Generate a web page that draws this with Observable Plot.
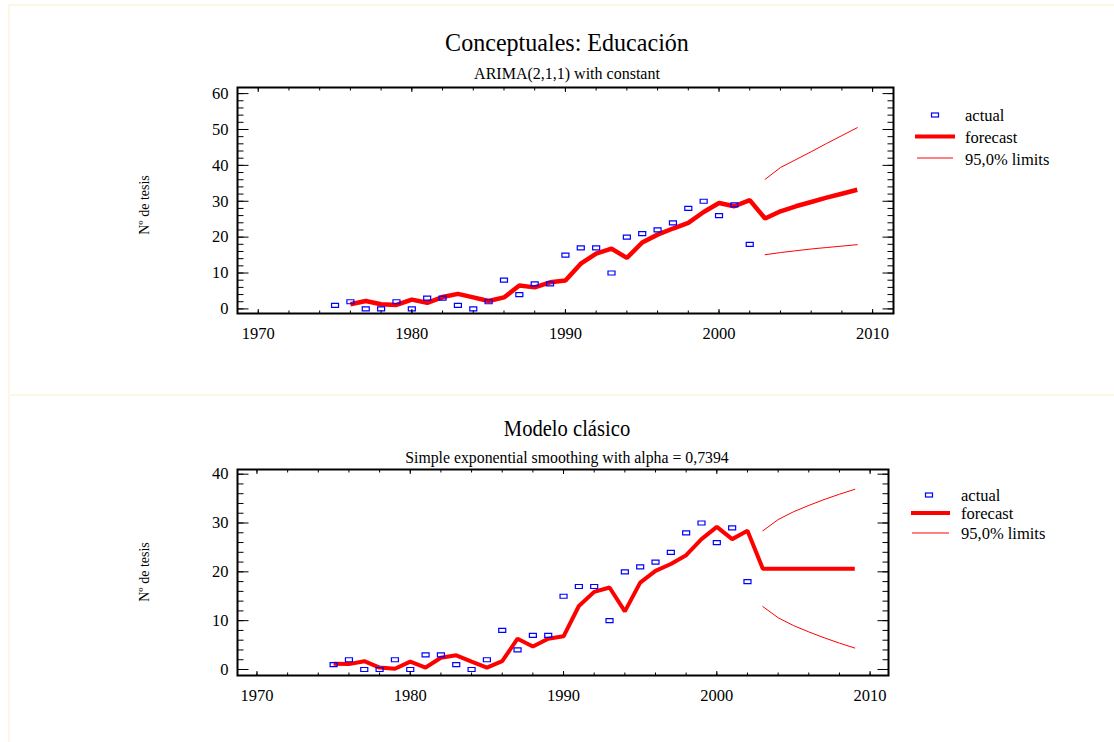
<!DOCTYPE html>
<html>
<head>
<meta charset="utf-8">
<script src="https://cdn.jsdelivr.net/npm/d3@7"></script>
<script src="https://cdn.jsdelivr.net/npm/@observablehq/plot@0.6"></script>
<style>
  body { margin: 0; background: #fff; font-family: "Liberation Serif", "Times New Roman", serif; color: #000; }
  #root { position: relative; width: 1114px; height: 742px; overflow: hidden; background: #fff; }
  .panel { position: absolute; box-sizing: border-box; border: 2px solid #fdf6e4; }
  .plot { position: absolute; left: 0; }
  .title { position: absolute; left: 0; width: 1134px; text-align: center; white-space: nowrap; line-height: 1; font-family: "Liberation Serif", serif; }
  .ylab { position: absolute; white-space: nowrap; font-size: 14px; line-height: 1; transform: translate(-50%, -50%) rotate(-90deg); font-family: "Liberation Serif", serif; }
  .legend { position: absolute; overflow: visible; }
  .legend text { font-family: "Liberation Serif", "Times New Roman", serif; font-size: 16.5px; fill: #000; }
</style>
</head>
<body>
<div id="root">
  <div class="panel" style="left:8px;top:4px;width:1110px;height:392px;"></div>
  <div class="panel" style="left:8px;top:394px;width:1110px;height:360px;"></div>
  <div id="p1" class="plot" style="top:0px;"></div>
  <div id="p2" class="plot" style="top:395px;"></div>
  <div class="title" style="top:43px;font-size:26px;transform:translateY(-50%) scaleX(0.925);">Conceptuales: Educación</div>
  <div class="title" style="top:74px;font-size:16px;transform:translateY(-50%);">ARIMA(2,1,1) with constant</div>
  <div class="title" style="top:429px;font-size:22.5px;transform:translateY(-50%) scaleX(0.915);">Modelo clásico</div>
  <div class="title" style="top:458px;font-size:15.8px;transform:translateY(-50%);">Simple exponential smoothing with alpha = 0,7394</div>
  <div class="ylab" style="left:145px;top:205px;">Nº de tesis</div>
  <div class="ylab" style="left:145px;top:572px;">Nº de tesis</div>
  <svg class="legend" style="left:900px;top:100px;" width="200" height="70">
    <rect x="31.5" y="13" width="7" height="4" fill="none" stroke="#0000ff" stroke-width="1.2"></rect>
    <text x="65" y="15" dy="0.35em">actual</text>
    <line x1="15" x2="55" y1="36.5" y2="36.5" stroke="#ff0000" stroke-width="4"></line>
    <text x="65" y="37" dy="0.35em">forecast</text>
    <line x1="17" x2="53" y1="58" y2="58" stroke="#ff0000" stroke-width="1"></line>
    <text x="65" y="59" dy="0.35em">95,0% limits</text>
  </svg>
  <svg class="legend" style="left:900px;top:480px;" width="200" height="70">
    <rect x="25.5" y="13" width="7" height="4" fill="none" stroke="#0000ff" stroke-width="1.2"></rect>
    <text x="61" y="15" dy="0.35em">actual</text>
    <line x1="11" x2="50" y1="33" y2="33" stroke="#ff0000" stroke-width="4"></line>
    <text x="61" y="33" dy="0.35em">forecast</text>
    <line x1="12" x2="49" y1="53" y2="53" stroke="#ff0000" stroke-width="1"></line>
    <text x="61" y="53" dy="0.35em">95,0% limits</text>
  </svg>
</div>
<script>
// ---------- data ----------
const actualYears = [1975,1976,1977,1978,1979,1980,1981,1982,1983,1984,1985,1986,1987,1988,1989,1990,1991,1992,1993,1994,1995,1996,1997,1998,1999,2000,2001,2002];
const actual      = [1,2,0,0,2,0,3,3,1,0,2,8,4,7,7,15,17,17,10,20,21,22,24,28,30,26,29,18];

// ARIMA(2,1,1) forecast (top chart)
const arimaYears = [1976,1977,1978,1979,1980,1981,1982,1983,1984,1985,1986,1987,1988,1989,1990,1991,1992,1993,1994,1995,1996,1997,1998,1999,2000,2001,2002,2003,2004,2005,2006,2007,2008,2009];
const arimaFc    = [1.3,2.2,1.3,1.1,2.6,1.7,3.3,4.2,3.2,2.2,3.2,6.5,6.0,7.4,7.9,12.6,15.4,16.8,14.2,18.5,20.7,22.4,24.0,27.0,29.5,28.6,30.3,25.2,27.2,28.6,29.8,31.0,32.1,33.2];
const limitYears = [2003,2004,2005,2006,2007,2008,2009];
const arimaUpper = [36.1,39.4,41.6,43.8,46.1,48.3,50.5];
const arimaLower = [15.1,15.7,16.2,16.7,17.1,17.5,17.9];

// Simple exponential smoothing forecast (bottom chart)
const sesYears = [1975,1976,1977,1978,1979,1980,1981,1982,1983,1984,1985,1986,1987,1988,1989,1990,1991,1992,1993,1994,1995,1996,1997,1998,1999,2000,2001,2002,2003,2004,2005,2006,2007,2008,2009];
const sesFc    = [1.2,1.1,1.7,0.4,0.15,1.6,0.4,2.4,2.9,1.6,0.4,1.7,6.3,4.7,6.3,6.8,13.0,15.9,16.8,11.9,17.8,20.2,21.6,23.4,26.7,29.2,26.7,28.4,20.65,20.65,20.65,20.65,20.65,20.65,20.65];
const sesUpper = [28.4,30.7,32.3,33.6,34.8,35.9,36.9];
const sesLower = [12.9,10.6,9.0,7.7,6.5,5.4,4.4];

// tick values
const xMajor = [1970,1980,1990,2000,2010];
const xMinor = [1970,1972,1974,1976,1978,1980,1982,1984,1986,1988,1990,1992,1994,1996,1998,2000,2002,2004,2006,2008,2010];
const yMajorTop = [0,10,20,30,40,50,60];
const yMinorTop = [0,2,4,6,8,10,12,14,16,18,20,22,24,26,28,30,32,34,36,38,40,42,44,46,48,50,52,54,56,58,60];
const yMajorBot = [0,10,20,30,40];
const yMinorBot = [0,2,4,6,8,10,12,14,16,18,20,22,24,26,28,30,32,34,36,38,40];

(function () {
  const BLUE = "#0000ff", RED = "#ff0000";
  const box = { draw(ctx) { ctx.moveTo(-3.5,-2); ctx.lineTo(3.5,-2); ctx.lineTo(3.5,2); ctx.lineTo(-3.5,2); ctx.closePath(); } };
  const zip = (xs, ys) => xs.map((x, i) => ({x, y: ys[i]}));
  const FONT = '"Liberation Serif", "Times New Roman", serif';

  function frameAxes(yMajor, yMinor) {
    const none = {fill: "none", label: null};
    return [
      Plot.axisX({anchor: "bottom", ticks: xMajor, tickSize: 0, tickPadding: 14, tickFormat: d => String(d), fontSize: 16.5, label: null}),
      Plot.axisX({anchor: "bottom", ticks: xMinor, tickSize: -2.5, ...none}),
      Plot.axisX({anchor: "bottom", ticks: xMajor, tickSize: -4, ...none}),
      Plot.axisX({anchor: "top", ticks: xMinor, tickSize: -2.5, ...none}),
      Plot.axisX({anchor: "top", ticks: xMajor, tickSize: -4, ...none}),
      Plot.axisY({anchor: "left", ticks: yMajor, tickSize: 0, tickPadding: 9, tickFormat: d => String(d), fontSize: 16.5, label: null}),
      Plot.axisY({anchor: "left", ticks: yMinor, tickSize: -6.5, ...none}),
      Plot.axisY({anchor: "left", ticks: yMajor, tickSize: -11.5, ...none}),
      Plot.axisY({anchor: "right", ticks: yMinor, tickSize: -6.5, ...none}),
      Plot.axisY({anchor: "right", ticks: yMajor, tickSize: -11.5, ...none}),
      Plot.frame({stroke: "#000", strokeWidth: 2})
    ];
  }

  const chartTop = Plot.plot({
    width: 1114, height: 390,
    marginTop: 87, marginBottom: 77, marginLeft: 237, marginRight: 221,
    style: {fontFamily: FONT, background: "transparent", color: "#000"},
    x: {domain: [1968.65, 2011.36], axis: null},
    y: {domain: [-1.28, 61.7], axis: null},
    marks: [
      Plot.line(zip(limitYears, arimaUpper), {x: "x", y: "y", stroke: RED, strokeWidth: 1}),
      Plot.line(zip(limitYears, arimaLower), {x: "x", y: "y", stroke: RED, strokeWidth: 1}),
      Plot.line(zip(arimaYears, arimaFc), {x: "x", y: "y", stroke: RED, strokeWidth: 4.5, strokeLinejoin: "miter", strokeLinecap: "butt"}),
      Plot.dot(zip(actualYears, actual), {x: "x", y: "y", symbol: box, stroke: BLUE, fill: "none", strokeWidth: 1.2}),
      ...frameAxes(yMajorTop, yMinorTop)
    ]
  });
  document.getElementById("p1").appendChild(chartTop);

  const chartBot = Plot.plot({
    width: 1114, height: 347,
    marginTop: 74, marginBottom: 67, marginLeft: 237, marginRight: 226,
    style: {fontFamily: FONT, background: "transparent", color: "#000"},
    x: {domain: [1968.73, 2011.2], axis: null},
    y: {domain: [-1.23, 40.96], axis: null},
    marks: [
      Plot.line(zip(limitYears, sesUpper), {x: "x", y: "y", stroke: RED, strokeWidth: 1}),
      Plot.line(zip(limitYears, sesLower), {x: "x", y: "y", stroke: RED, strokeWidth: 1}),
      Plot.line(zip(sesYears, sesFc), {x: "x", y: "y", stroke: RED, strokeWidth: 4, strokeLinejoin: "miter", strokeLinecap: "butt"}),
      Plot.dot(zip(actualYears, actual), {x: "x", y: "y", symbol: box, stroke: BLUE, fill: "none", strokeWidth: 1.2}),
      ...frameAxes(yMajorBot, yMinorBot)
    ]
  });
  document.getElementById("p2").appendChild(chartBot);
})();
</script>
</body>
</html>
